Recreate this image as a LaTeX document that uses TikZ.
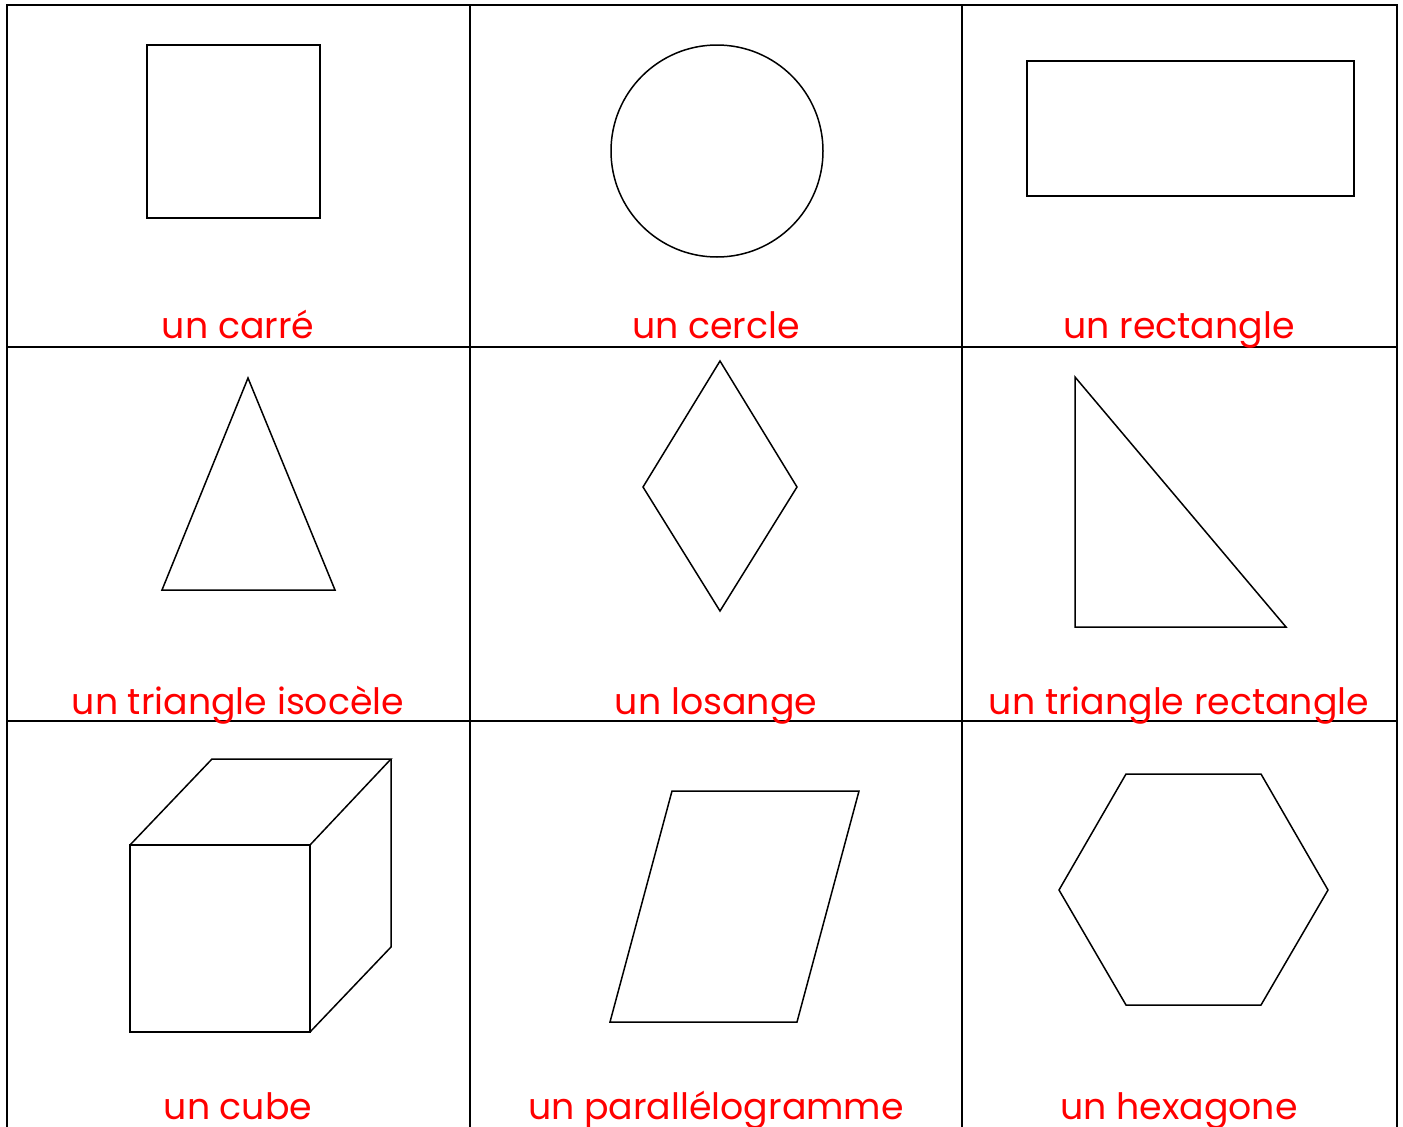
\documentclass[tikz,border=0pt]{standalone}
\usepackage{fontspec}
\setmainfont{Poppins}
\definecolor{labelred}{RGB}{255,0,0}
\begin{document}
\begin{tikzpicture}[x=1pt,y=-1pt,
  gridline/.style={line width=2pt,black},
  figline/.style={line width=1.5pt,black,line join=miter},
  lbl/.style={anchor=base,text=labelred,font=\fontsize{36.3}{42}\selectfont,inner sep=0pt}]
\useasboundingbox (0,0) rectangle (1403,1127);
\clip (0,0) rectangle (1403,1127);
\fill[white] (0,0) rectangle (1403,1127);
% grid
\draw[gridline] (7,1140) -- (7,5) -- (1397,5) -- (1397,1140);
\draw[gridline] (470,5) -- (470,1140);
\draw[gridline] (962,5) -- (962,1140);
\draw[gridline] (7,347) -- (1397,347);
\draw[gridline] (7,721) -- (1397,721);
% row 1
\draw[figline] (147,45) rectangle (320,218);
\draw[figline] (717,151) circle (106);
\draw[figline] (1027,61) rectangle (1354,196);
% row 2
\draw[figline] (248,378) -- (335,590) -- (162,590) -- cycle;
\draw[figline] (720,361) -- (797,487) -- (720,611) -- (643,487) -- cycle;
\draw[figline] (1075,377) -- (1286,627) -- (1075,627) -- cycle;
% row 3 cube
\draw[figline] (130,845) rectangle (310,1032);
\draw[figline] (130,845) -- (212,759) -- (391,759) -- (310,845);
\draw[figline] (391,759) -- (391,947) -- (310,1032);
% parallelogram
\draw[figline] (672,791) -- (859,791) -- (797,1022) -- (610,1022) -- cycle;
% hexagon
\draw[figline] (1126,774) -- (1261,774) -- (1328,890) -- (1261,1005) -- (1126,1005) -- (1059,890) -- cycle;
% labels
\node[lbl] (l1) at (238,338) {un carré};
\node[lbl] (l2) at (716,338) {un cercle};
\node[lbl] (l3) at (1179,338) {un rectangle};
\node[lbl] (l4) at (238,714) {un triangle isocèle};
\node[lbl] (l5) at (716,714) {un losange};
\node[lbl] (l6) at (1179,714) {un triangle rectangle};
\node[lbl] (l7) at (238,1119) {un cube};
\node[lbl] (l8) at (716,1119) {un parallélogramme};
\node[lbl] (l9) at (1179,1119) {un hexagone};
\end{tikzpicture}
\end{document}
